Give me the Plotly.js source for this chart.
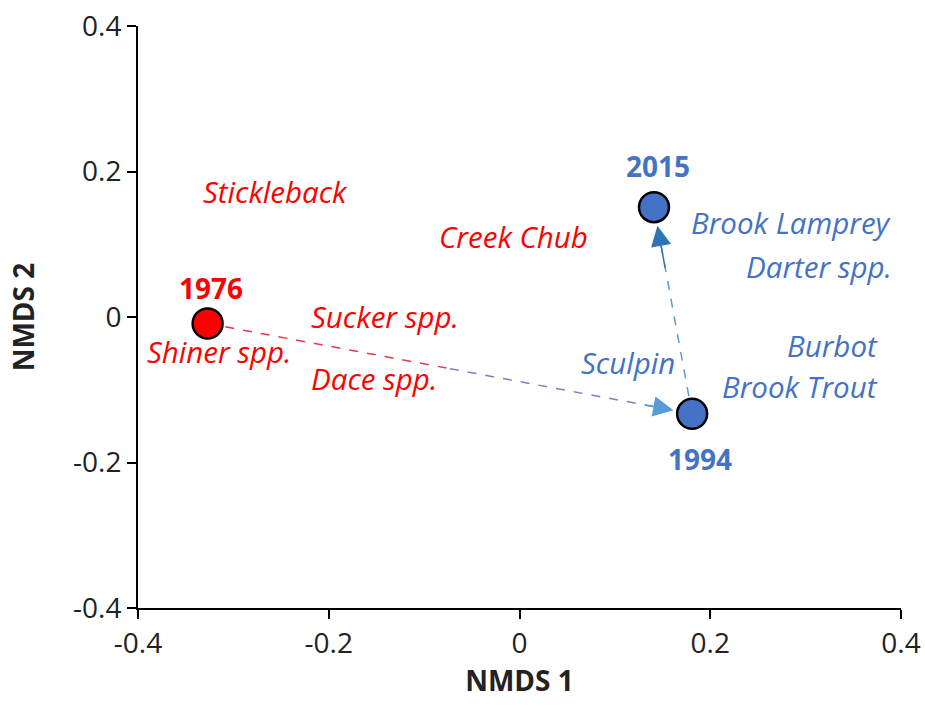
<!DOCTYPE html>
<html>
<head>
<meta charset="utf-8">
<script src="https://cdn.plot.ly/plotly-3.0.1.min.js"></script>
<style>html,body{margin:0;padding:0;background:#fff;}#chart{width:925px;height:706px;}</style>
</head>
<body>
<div id="chart"></div>
<script>
// Sample (year) scores
const years = ['1976', '1994', '2015'];
const yearX = [-0.327, 0.181, 0.141];
const yearY = [-0.009, -0.133, 0.151];
const yearColors = ['#ff0000', '#4472c4', '#4472c4'];

// Species label positions (red = associated with 1976, blue = later years)
const redSpecies = ['Stickleback', 'Creek Chub', 'Sucker spp.', 'Shiner spp.', 'Dace spp.'];
const redX = [-0.256, -0.006, -0.141, -0.315, -0.153];
const redY = [0.173, 0.110, 0.001, -0.048, -0.084];

const blueSpecies = ['Brook Lamprey', 'Darter spp.', 'Burbot', 'Brook Trout', 'Sculpin'];
const blueX = [0.393, 0.393, 0.378, 0.378, 0.114];
const blueY = [0.130, 0.070, -0.039, -0.095, -0.062];

const tickVals = [-0.4, -0.2, 0, 0.2, 0.4];
const tickText = ['-0.4', '-0.2', '0', '0.2', '0.4'];

const FONT = 'Open Sans, Noto Sans, sans-serif';
const RED = '#ff0000';
const BLUE = '#4472c4';
const LBLUE = '#5b9bd5';
const ABLUE = '#2e75b6';

const i76 = 0, i94 = 1, i15 = 2;
const midX = (yearX[i76] + yearX[i94]) / 2;
const midY = (yearY[i76] + yearY[i94]) / 2;

const traces = [
  {x: [yearX[i76], midX], y: [yearY[i76], midY], mode: 'lines', line: {color: '#e8384a', width: 1.5, dash: 'dash'}, hoverinfo: 'skip', showlegend: false},
  {x: [midX, yearX[i94]], y: [midY, yearY[i94]], mode: 'lines', line: {color: '#7d7fc0', width: 1.5, dash: 'dash'}, hoverinfo: 'skip', showlegend: false},
  {x: [yearX[i94], yearX[i15]], y: [yearY[i94], yearY[i15]], mode: 'lines', line: {color: LBLUE, width: 1.5, dash: 'dash'}, hoverinfo: 'skip', showlegend: false},
  {x: yearX, y: yearY, mode: 'markers', marker: {size: 30, color: yearColors, line: {color: '#000', width: 2.5}}, showlegend: false, hoverinfo: 'x+y'}
];

const annotations = [];
// arrowheads
function arrow(from, to, color, frac) {
  const fx = yearX[from] + frac * (yearX[to] - yearX[from]);
  const fy = yearY[from] + frac * (yearY[to] - yearY[from]);
  annotations.push({x: yearX[to], y: yearY[to], ax: fx, ay: fy, xref: 'x', yref: 'y', axref: 'x', ayref: 'y',
    showarrow: true, arrowhead: 2, arrowsize: 2.7, arrowwidth: 1.5, arrowcolor: color, standoff: 19, text: ''});
}
arrow(i76, i94, LBLUE, 0.9);
arrow(i94, i15, ABLUE, 0.7);

const yearOffsets = [36, -45, 41];
years.forEach((t, i) => {
  annotations.push({x: yearX[i] + [0.004, 0.008, 0.004][i], y: yearY[i], yshift: yearOffsets[i], xref: 'x', yref: 'y', text: '<b>' + t + '</b>',
    showarrow: false, font: {family: FONT, size: 28, color: yearColors[i]}});
});
redSpecies.forEach((t, i) => {
  annotations.push({x: redX[i], y: redY[i], xref: 'x', yref: 'y', text: '<i>' + t + '</i>', showarrow: false,
    font: {family: FONT, size: 29.5, color: RED}});
});
blueSpecies.forEach((t, i) => {
  annotations.push({x: blueX[i], y: blueY[i], xref: 'x', yref: 'y', text: '<i>' + t + '</i>', showarrow: false,
    xanchor: i < 4 ? 'right' : 'center', font: {family: FONT, size: 29.5, color: BLUE}});
});

const axisCommon = {
  range: [-0.4, 0.4], tickvals: tickVals, ticktext: tickText, showgrid: false, zeroline: false,
  showline: true, linecolor: '#000', linewidth: 2, ticks: 'outside', ticklen: 9, tickwidth: 2, tickcolor: '#000',
  tickfont: {family: FONT, size: 28, color: '#222'}, fixedrange: true
};

const layout = {
  width: 925, height: 706,
  margin: {l: 138, r: 24, t: 26, b: 98},
  paper_bgcolor: '#fff', plot_bgcolor: '#fff',
  xaxis: Object.assign({}, axisCommon, {title: {text: '<b>NMDS 1</b>', font: {family: FONT, size: 28, color: '#222'}, standoff: 12}}),
  yaxis: Object.assign({}, axisCommon, {title: {text: '<b>NMDS 2</b>', font: {family: FONT, size: 28, color: '#222'}, standoff: 30}}),
  annotations: annotations,
  showlegend: false
};

Plotly.newPlot('chart', traces, layout, {displayModeBar: false, staticPlot: true});
</script>
</body>
</html>
